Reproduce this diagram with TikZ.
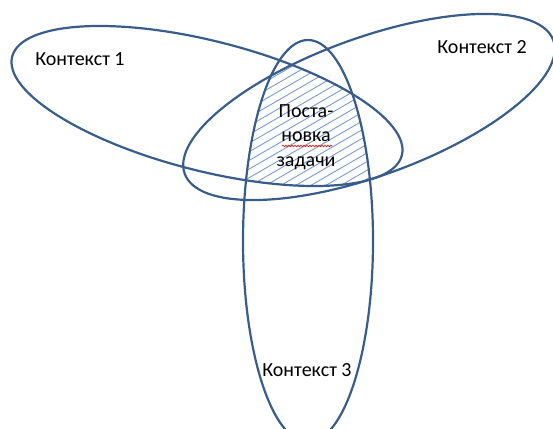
\documentclass[tikz,border=0pt]{standalone}
\usepackage{fontspec}
\setmainfont{Carlito}
\usetikzlibrary{decorations.pathmorphing}
\definecolor{ringblue}{RGB}{56,93,138}
\definecolor{hatchblue}{RGB}{120,155,210}

\begin{document}
\begin{tikzpicture}[x=1pt, y=1pt,
    ring/.style = {draw=ringblue, line width=2.2pt},
    hatchline/.style = {hatchblue, line width=0.9pt},
    ctxtext/.style = {font=\fontsize{20}{24.4}\selectfont, align=center, inner sep=0pt}]
  \useasboundingbox (0, 0) rectangle (553, -428);
  % common part of the three contexts
  \begin{scope}
    \clip [rotate around={-14.2:(207, -106)}] (207, -106) ellipse [x radius=201, y radius=65];
    \clip [rotate around={19.9:(369, -107)}] (369, -107) ellipse [x radius=196, y radius=69];
    \clip (308, -241) ellipse [x radius=65, y radius=201];
    \foreach \i in {0,...,28}
      \draw [hatchline] (200, {-310 + 8.66*\i}) -- ++(30:300);
  \end{scope}
  \draw [ring, rotate around={-14.2:(207, -106)}] (207, -106) ellipse [x radius=201, y radius=65];
  \draw [ring, rotate around={19.9:(369, -107)}] (369, -107) ellipse [x radius=196, y radius=69];
  \draw [ring] (308, -241) ellipse [x radius=65, y radius=201];
  \node [ctxtext] (ctx1) at (80, -59) {Контекст 1};
  \node [ctxtext] (ctx2) at (482, -47) {Контекст 2};
  \node [ctxtext] (ctx3) at (307, -370) {Контекст 3};
  \node [ctxtext] (task) at (306, -137) {Поста-\\новка\\задачи};
  \draw [red, line width=0.6pt, decorate, decoration={snake, amplitude=0.8pt, segment length=3pt}] (282, -146) -- (332, -146);
\end{tikzpicture}
\end{document}
